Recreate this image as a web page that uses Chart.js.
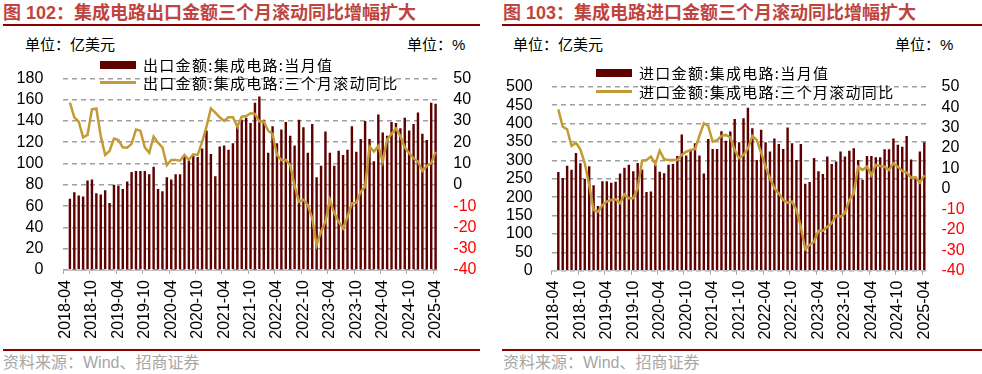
<!DOCTYPE html>
<html>
<head>
<meta charset="utf-8">
<script src="https://cdn.jsdelivr.net/npm/chart.js@4.4.1/dist/chart.umd.min.js"></script>
<style>
  body { margin: 0; background: #fff; }
  #page { position: relative; width: 982px; height: 374px; overflow: hidden; font-family: "Liberation Sans", "Noto Sans CJK SC", sans-serif; }
  .abs { position: absolute; white-space: nowrap; }
  .title { font-size: 18px; font-weight: bold; color: #C0443E; line-height: 24px; }
  .rule { position: absolute; height: 2px; background: #8B0000; }
  .unit { font-size: 15px; line-height: 20px; color: #000; }
  .src { font-size: 16px; line-height: 20px; color: #A6A6A6; }
  .legend { font-family: "Noto Sans CJK SC", sans-serif; font-size: 15px; line-height: 20px; letter-spacing: 1.3px; color: #000; }
  .swatch { position: absolute; }
  canvas { position: absolute; top: 0; }
</style>
</head>
<body>
<div id="page">
  <div class="abs title" style="left:3px; top:1px;">图 102：集成电路出口金额三个月滚动同比增幅扩大</div>
  <div class="rule" style="left:3px; top:24px; width:477px;"></div>
  <div class="abs unit" style="left:25px; top:35px;">单位：亿美元</div>
  <div class="abs unit" style="left:407px; top:35px;">单位：%</div>
  <div class="rule" style="left:3px; top:349px; width:477px;"></div>
  <div class="abs src" style="left:3px; top:353px;">资料来源：Wind、招商证券</div>

  <div class="abs title" style="left:503px; top:1px;">图 103：集成电路进口金额三个月滚动同比增幅扩大</div>
  <div class="rule" style="left:502px; top:24px; width:480px;"></div>
  <div class="abs unit" style="left:513px; top:35px;">单位：亿美元</div>
  <div class="abs unit" style="left:895px; top:35px;">单位：%</div>
  <div class="rule" style="left:502px; top:349px; width:480px;"></div>
  <div class="abs src" style="left:503px; top:353px;">资料来源：Wind、招商证券</div>

  <canvas id="exportChart" width="490" height="374" style="left:0px;"></canvas>
  <canvas id="importChart" width="492" height="374" style="left:490px;"></canvas>
</div>

<script>
const MAROON = '#5E0000';
const GOLD = '#C49A34';
const GRID = '#A0A0A0';

// Months 2018-04 .. 2025-04 (category axis)
const MONTHS = [];
for (let y = 2018; y <= 2025; y++) {
    for (let m = 1; m <= 12; m++) {
        if ((y === 2018 && m < 4) || (y === 2025 && m > 4)) continue;
        MONTHS.push(`${y}-${String(m).padStart(2, '0')}`);
    }
}

const TICK_LABELS = ['2018-04', '2018-10', '2019-04', '2019-10', '2020-04', '2020-10', '2021-04',
    '2021-10', '2022-04', '2022-10', '2023-04', '2023-10', '2024-04', '2024-10', '2025-04'];

// Export: monthly value (亿美元), 2018-04 has no data
const EXPORT_VALUE = [null,
    67, 73, 70, 69, 84, 85, 72, 71, 75, 63,
    80, 79, 76, 83, 92, 93, 93, 93, 90, 97,
    76, 74, 87, 85, 90, 90, 106, 103, 107, 106,
    114, 131, 109, 88, 116, 117, 113, 119, 135, 141,
    143, 138, 157, 163, 141, 110, 135, 119, 132, 139,
    126, 117, 141, 134, 110, 137, 87, 98, 130, 110,
    98, 112, 108, 113, 135, 111, 123, 140, 123, 102,
    146, 129, 126, 139, 138, 133, 143, 131, 137, 148,
    128, 122, 157, 156];

// Export: 3-month rolling yoy (%)
const EXPORT_YOY = [null,
    38.6, 31.7, 29.7, 22.3, 23.4, 35.4, 35.8, 22.9, 14, 15.9,
    21.7, 21, 17.6, 17.4, 19.2, 26, 25.4, 17.6, 15, 22.6,
    19.8, 17.6, 9.3, 11.7, 11.7, 11.3, 14, 11.7, 14.3, 14,
    20, 27.3, 35.9, 33.9, 31.7, 30, 31.7, 31.7, 27.3, 32,
    32.3, 33.6, 33.3, 29.7, 29.7, 25.4, 23.9, 14, 11.7, 11.7,
    9.3, -0.5, -8, -7, -9.5, -15.7, -28.3, -22, -17.3, -7.1,
    -13.4, -17.3, -20.4, -15, -8.7, -8.4, -3.2, -0.9, 17.9, 15.6,
    18.2, 10.9, 21.4, 23.9, 26.5, 22.9, 17.6, 14.8, 12.4, 10.9,
    6.6, 8.8, 10.1, 15.5];

// Import: monthly value (亿美元)
const IMPORT_VALUE = [null,
    268, 252, 285, 274, 320, 292, 250, 284, 232, 176,
    243, 243, 239, 242, 264, 280, 288, 270, 293, 275,
    214, 215, 287, 269, 265, 288, 290, 312, 370, 313,
    325, 346, 313, 264, 358, 331, 331, 379, 353, 378,
    412, 349, 414, 443, 387, 301, 383, 349, 324, 359,
    344, 331, 389, 346, 301, 344, 236, 241, 306, 270,
    263, 310, 290, 297, 324, 310, 326, 333, 301, 247,
    312, 312, 308, 308, 330, 330, 359, 342, 337, 366,
    302, 255, 324, 349];

// Import: 3-month rolling yoy (%)
const IMPORT_YOY = [null,
    38.9, 30.4, 29.1, 21, 22.6, 19.4, 12.5, 1.9, -10.3, -11.1,
    -7.9, -6.2, -5.4, -5.1, -7, -2.6, -4.6, -4.6, 0.3, 13.8,
    14.1, 15.8, 12.2, 18.7, 14.5, 14.1, 14.1, 14.1, 16.6, 18.2,
    19, 19.4, 25.9, 32.1, 30.8, 23.1, 23.9, 25.9, 26.4, 25.2,
    19, 15, 16.6, 19.8, 25.9, 23.9, 17.7, 10.9, 5.2, 0.3,
    -2.2, -5.4, -6.7, -6.2, -10.3, -18.5, -29.5, -27.4, -25.8, -20.4,
    -20.4, -18.5, -16.8, -12.9, -13.6, -11.9, -5.4, -2.2, 10.9, 9.3,
    10.9, 6.8, 11.7, 11.2, 10.9, 9.3, 12.5, 10.9, 8.8, 8,
    5.5, 5.7, 3.1, 6.8];

const TICK_FONT = { family: 'Liberation Sans', size: 16 };

// Legend drawn as html rows inside the plot
function addLegend(left, row1, row2, barLabel, lineLabel) {
    const page = document.getElementById('page');
    const box = document.createElement('div');
    box.className = 'swatch';
    box.style.cssText = `left:${left}px; top:${row1 - 4}px; width:36px; height:8px; background:${MAROON};`;
    const line = document.createElement('div');
    line.className = 'swatch';
    line.style.cssText = `left:${left}px; top:${row2 - 1.5}px; width:36px; height:3px; background:${GOLD};`;
    [[barLabel, row1], [lineLabel, row2]].forEach(([txt, y]) => {
        const t = document.createElement('div');
        t.className = 'abs legend';
        t.style.left = (left + 43) + 'px';
        t.style.top = (y - 10) + 'px';
        t.innerText = txt;
        page.appendChild(t);
    });
    page.appendChild(box);
    page.appendChild(line);
}

function drawChart(id, cfg) {
    new Chart(document.getElementById(id), {
        type: 'bar',
        data: {
            labels: MONTHS,
            datasets: [
                {
                    type: 'line', label: cfg.lineLabel, data: cfg.yoy, yAxisID: 'y1',
                    borderColor: GOLD, borderWidth: 2.5, pointRadius: 0, tension: 0, order: 0
                },
                {
                    type: 'bar', label: cfg.barLabel, data: cfg.values, yAxisID: 'y',
                    backgroundColor: MAROON, barPercentage: 0.55, categoryPercentage: 1, order: 1
                }
            ]
        },
        options: {
            responsive: false,
            animation: false,
            layout: { padding: { top: cfg.top, left: 0, right: 0, bottom: 0 } },
            plugins: { legend: { display: false }, tooltip: { enabled: false } },
            scales: {
                x: {
                    offset: true,
                    grid: {
                        offset: true, drawOnChartArea: false, tickLength: 4, lineWidth: 1,
                        color: ctx => TICK_LABELS.includes(MONTHS[ctx.index]) ? '#A8A8A8' : 'rgba(0,0,0,0)'
                    },
                    border: { color: '#C0C0C0', width: 1 },
                    ticks: {
                        autoSkip: false, maxRotation: 90, minRotation: 90, padding: 6,
                        font: TICK_FONT, color: '#000',
                        callback: (v, i) => TICK_LABELS.includes(MONTHS[i]) ? MONTHS[i] : ''
                    },
                    afterFit: s => { s.height = cfg.xHeight; }
                },
                y: {
                    position: 'left', min: 0, max: cfg.yMax,
                    ticks: { stepSize: cfg.yStep, autoSkip: false, padding: cfg.leftPad, font: TICK_FONT, color: '#000' },
                    grid: { display: true, drawOnChartArea: true, drawTicks: false, color: GRID, lineWidth: 1.5 },
                    border: { display: false, dash: [5, 4] },
                    afterFit: s => { s.width = cfg.leftW; }
                },
                y1: {
                    position: 'right', min: -40, max: 50,
                    ticks: {
                        stepSize: 10, autoSkip: false, padding: cfg.rightPad, font: TICK_FONT,
                        color: ctx => ctx.tick.value < 0 ? '#FF0000' : '#000'
                    },
                    grid: { display: false, drawTicks: false },
                    border: { display: false },
                    afterFit: s => { s.width = cfg.rightW; }
                }
            }
        }
    });
}

drawChart('exportChart', {
    values: EXPORT_VALUE, yoy: EXPORT_YOY,
    barLabel: '出口金额:集成电路:当月值', lineLabel: '出口金额:集成电路:三个月滚动同比',
    yMax: 180, yStep: 20, top: 78.3, xHeight: 104,
    leftW: 63.3, rightW: 52.2, leftPad: 20, rightPad: 15.5
});
drawChart('importChart', {
    values: IMPORT_VALUE, yoy: IMPORT_YOY,
    barLabel: '进口金额:集成电路:当月值', lineLabel: '进口金额:集成电路:三个月滚动同比',
    yMax: 500, yStep: 50, top: 86.7, xHeight: 103.3,
    leftW: 61.7, rightW: 55.5, leftPad: 19, rightPad: 15
});

addLegend(100, 64.5, 82.5, '出口金额:集成电路:当月值', '出口金额:集成电路:三个月滚动同比');
addLegend(596, 72.7, 91.5, '进口金额:集成电路:当月值', '进口金额:集成电路:三个月滚动同比');
</script>
</body>
</html>
